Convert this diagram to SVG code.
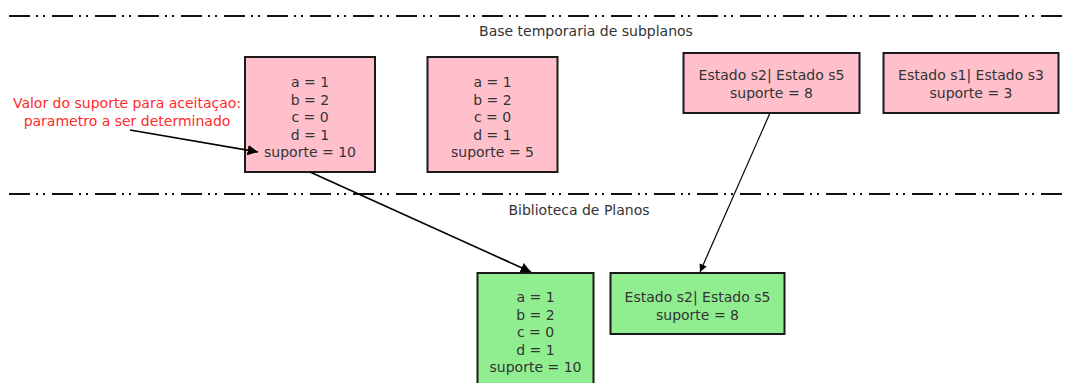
<svg xmlns="http://www.w3.org/2000/svg" width="1068" height="383" viewBox="0 0 1068 383">
<style>
text{font-family:"DejaVu Sans",Verdana,sans-serif;font-size:14px;fill:#333;text-anchor:middle}
.lbl{font-size:14px;fill:#333}
.red{fill:#ff2a2a;font-size:14px}
.pink{fill:#ffc0cb;stroke:#1a1a1a;stroke-width:2}
.green{fill:#90ee90;stroke:#1a1a1a;stroke-width:2}
.sep{stroke:#111;stroke-width:2;fill:none;stroke-dasharray:21 6 2 5 2 7}
.edge{stroke:#000;stroke-width:1.6;fill:none;marker-end:url(#ah)}
</style>
<defs>
<marker id="ah" viewBox="0 0 10 10" refX="10" refY="5" markerWidth="6.5" markerHeight="6.5" markerUnits="strokeWidth" orient="auto">
<path d="M0,0 L10,5 L0,10 z" fill="#000"/>
</marker>
</defs>
<rect width="1068" height="383" fill="#fff"/>
<g id="separators">
<line class="sep" x1="9" y1="16" x2="1068" y2="16"/>
<line class="sep" x1="9" y1="194" x2="1068" y2="194"/>
<text class="lbl" x="586" y="36">Base temporaria de subplanos</text>
<text class="lbl" x="579" y="215">Biblioteca de Planos</text>
</g>
<g id="note">
<text class="red" x="127" y="108">Valor do suporte para aceitaçao:</text>
<text class="red" x="127" y="126">parametro a ser determinado</text>
</g>
<g id="n1">
<rect class="pink" x="245" y="57" width="130" height="115"/>
<text x="310" y="87">a = 1</text>
<text x="310" y="104.5">b = 2</text>
<text x="310" y="122">c = 0</text>
<text x="310" y="139.5">d = 1</text>
<text x="310" y="157">suporte = 10</text>
</g>
<g id="n2">
<rect class="pink" x="427.5" y="57" width="130" height="115"/>
<text x="492.5" y="87">a = 1</text>
<text x="492.5" y="104.5">b = 2</text>
<text x="492.5" y="122">c = 0</text>
<text x="492.5" y="139.5">d = 1</text>
<text x="492.5" y="157">suporte = 5</text>
</g>
<g id="n3">
<rect class="pink" x="683.5" y="53" width="176" height="60"/>
<text x="771.5" y="80">Estado s2| Estado s5</text>
<text x="771.5" y="98">suporte = 8</text>
</g>
<g id="n4">
<rect class="pink" x="883.5" y="53" width="175" height="60"/>
<text x="971" y="80">Estado s1| Estado s3</text>
<text x="971" y="98">suporte = 3</text>
</g>
<g id="n5">
<rect class="green" x="477.5" y="273" width="116" height="120"/>
<text x="535.5" y="302">a = 1</text>
<text x="535.5" y="319.5">b = 2</text>
<text x="535.5" y="337">c = 0</text>
<text x="535.5" y="354.5">d = 1</text>
<text x="535.5" y="372">suporte = 10</text>
</g>
<g id="n6">
<rect class="green" x="610.5" y="273" width="174" height="61"/>
<text x="697.5" y="302">Estado s2| Estado s5</text>
<text x="697.5" y="320">suporte = 8</text>
</g>
<g id="connectors">
<line class="edge" x1="130" y1="130" x2="258" y2="152"/>
<line class="edge" x1="310" y1="172" x2="531" y2="272"/>
<line class="edge" x1="770" y1="113" x2="700" y2="272" style="stroke-width:1.2"/>
</g>
</svg>
